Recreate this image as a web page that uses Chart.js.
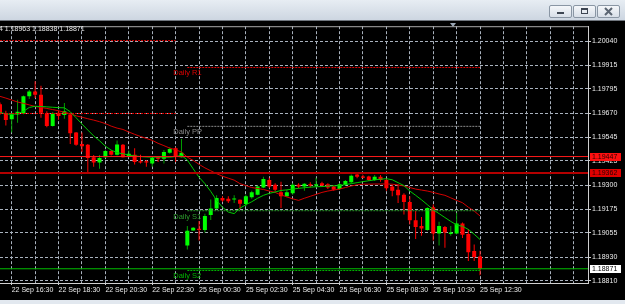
<!DOCTYPE html>
<html>
<head>
<meta charset="utf-8">
<script src="https://cdn.jsdelivr.net/npm/chart.js@4.4.1/dist/chart.umd.min.js"></script>
<style>
  html, body { margin: 0; padding: 0; }
  body { width: 625px; height: 304px; overflow: hidden; position: relative; background: #e2e8ef; font-family: 'Liberation Sans', Arial, sans-serif; }
  #titlebar { position: absolute; left: 0; top: 0; width: 625px; height: 20px; background: linear-gradient(#e7edf3, #cdd6e1); border-bottom: 1px solid #6f757d; }
  .btn { position: absolute; top: 5px; width: 21px; height: 11px; border: 1px solid #8a96a4; border-radius: 2px; background: linear-gradient(#f5f7fa, #d8dfe8); }
  .btn svg { position: absolute; left: 0; top: 0; }
  #frame { position: absolute; left: 0; top: 21px; width: 625px; height: 279px; background: #000; }
  #shift { position: absolute; left: 450px; top: 23px; width: 0; height: 0; border-left: 3px solid transparent; border-right: 3px solid transparent; border-top: 4px solid #9aa6b4; }
</style>
</head>
<body>
<div id="titlebar">
  <div class="btn" style="left:549px"><svg width="21" height="11"><rect x="7" y="6" width="7" height="2" fill="#3d4552"/></svg></div>
  <div class="btn" style="left:573px"><svg width="21" height="11"><rect x="7.5" y="2.5" width="6" height="5" fill="none" stroke="#3d4552"/><rect x="7" y="2" width="7" height="2" fill="#3d4552"/></svg></div>
  <div class="btn" style="left:597px"><svg width="21" height="11"><path d="M7 2 L14 9 M14 2 L7 9" stroke="#5b6572" stroke-width="2"/></svg></div>
</div>
<div id="frame"><canvas id="chart" width="625" height="279"></canvas></div>
<div id="shift"></div>
<script>
// EURUSD M15, bars from 22 Sep 16:00 to 25 Sep 12:30 (weekend skipped)
const opens = [1.19715, 1.19668, 1.19638, 1.19663, 1.19668, 1.19756, 1.19781, 1.19764, 1.19668, 1.19604,
  1.19672, 1.19660, 1.19663, 1.19571, 1.19512, 1.19507, 1.19444, 1.19416, 1.19444, 1.19475,
  1.19456, 1.19507, 1.19450, 1.19456, 1.19423, 1.19423, 1.19411, 1.19444, 1.19436, 1.19466,
  1.19490, 1.19444, 1.18990, 1.19068, 1.19076, 1.19070, 1.19147, 1.19180, 1.19234, 1.19231,
  1.19226, 1.19225, 1.19204, 1.19238, 1.19251, 1.19288, 1.19327, 1.19302, 1.19264, 1.19243,
  1.19259, 1.19302, 1.19293, 1.19305, 1.19298, 1.19310, 1.19305, 1.19293, 1.19281, 1.19302,
  1.19315, 1.19355, 1.19345, 1.19345, 1.19327, 1.19343, 1.19327, 1.19293, 1.19276, 1.19251,
  1.19214, 1.19120, 1.19091, 1.19070, 1.19187, 1.19052, 1.19086, 1.19049, 1.19052, 1.19103,
  1.19049, 1.18962, 1.18934];
const highs = [1.19725, 1.19682, 1.19672, 1.19739, 1.19760, 1.19789, 1.19833, 1.19811, 1.19680, 1.19675,
  1.19682, 1.19722, 1.19672, 1.19573, 1.19571, 1.19512, 1.19455, 1.19455, 1.19480, 1.19480,
  1.19529, 1.19512, 1.19478, 1.19490, 1.19456, 1.19429, 1.19444, 1.19450, 1.19480, 1.19495,
  1.19495, 1.19537, 1.19091, 1.19086, 1.19116, 1.19153, 1.19227, 1.19248, 1.19243, 1.19243,
  1.19248, 1.19227, 1.19251, 1.19271, 1.19298, 1.19343, 1.19338, 1.19310, 1.19318, 1.19276,
  1.19310, 1.19310, 1.19310, 1.19315, 1.19338, 1.19318, 1.19310, 1.19298, 1.19310, 1.19327,
  1.19355, 1.19360, 1.19352, 1.19349, 1.19352, 1.19352, 1.19332, 1.19302, 1.19305, 1.19259,
  1.19243, 1.19167, 1.19137, 1.19187, 1.19201, 1.19113, 1.19091, 1.19091, 1.19158, 1.19108,
  1.19075, 1.18995, 1.18963];
const lows = [1.19661, 1.19606, 1.19571, 1.19621, 1.19664, 1.19742, 1.19747, 1.19646, 1.19598, 1.19601,
  1.19636, 1.19641, 1.19512, 1.19503, 1.19470, 1.19360, 1.19394, 1.19385, 1.19439, 1.19452,
  1.19453, 1.19442, 1.19444, 1.19406, 1.19411, 1.19394, 1.19394, 1.19419, 1.19411, 1.19461,
  1.19419, 1.19442, 1.18970, 1.19066, 1.19016, 1.19057, 1.19121, 1.19177, 1.19215, 1.19209,
  1.19209, 1.19177, 1.19192, 1.19231, 1.19248, 1.19284, 1.19284, 1.19268, 1.19183, 1.19238,
  1.19251, 1.19284, 1.19271, 1.19288, 1.19288, 1.19293, 1.19281, 1.19271, 1.19276, 1.19298,
  1.19310, 1.19335, 1.19335, 1.19322, 1.19322, 1.19318, 1.19271, 1.19243, 1.19209, 1.19150,
  1.19100, 1.19024, 1.19041, 1.19066, 1.19016, 1.18990, 1.18979, 1.19041, 1.19049, 1.19029,
  1.18911, 1.18911, 1.18838];
const closes = [1.19669, 1.19635, 1.19663, 1.19677, 1.19756, 1.19781, 1.19764, 1.19672, 1.19604, 1.19668,
  1.19655, 1.19680, 1.19567, 1.19507, 1.19500, 1.19439, 1.19416, 1.19439, 1.19475, 1.19456,
  1.19509, 1.19444, 1.19461, 1.19419, 1.19416, 1.19416, 1.19439, 1.19436, 1.19470, 1.19486,
  1.19450, 1.19466, 1.19066, 1.19081, 1.19070, 1.19142, 1.19180, 1.19234, 1.19221, 1.19217,
  1.19231, 1.19205, 1.19243, 1.19264, 1.19293, 1.19332, 1.19293, 1.19276, 1.19243, 1.19264,
  1.19302, 1.19293, 1.19307, 1.19298, 1.19305, 1.19298, 1.19288, 1.19276, 1.19305, 1.19322,
  1.19349, 1.19343, 1.19338, 1.19327, 1.19343, 1.19327, 1.19284, 1.19271, 1.19248, 1.19214,
  1.19120, 1.19086, 1.19078, 1.19183, 1.19052, 1.19091, 1.19057, 1.19057, 1.19103, 1.19046,
  1.18956, 1.18931, 1.18871];

// moving averages (green = fast, red = slow)
const maFast = [1.19672, 1.19667, 1.19663, 1.19667, 1.19679, 1.19699, 1.19705, 1.19704, 1.19702, 1.19700,
  1.19698, 1.19697, 1.19677, 1.19646, 1.19614, 1.19583, 1.19553, 1.19528, 1.19500, 1.19480,
  1.19467, 1.19461, 1.19455, 1.19450, 1.19447, 1.19445, 1.19444, 1.19444, 1.19444, 1.19444,
  1.19447, 1.19453, 1.19429, 1.19384, 1.19341, 1.19308, 1.19268, 1.19222, 1.19187, 1.19162,
  1.19154, 1.19182, 1.19200, 1.19215, 1.19233, 1.19248, 1.19258, 1.19265, 1.19273, 1.19276,
  1.19280, 1.19284, 1.19287, 1.19290, 1.19292, 1.19293, 1.19295, 1.19297, 1.19298, 1.19303,
  1.19308, 1.19313, 1.19318, 1.19323, 1.19327, 1.19331, 1.19333, 1.19328, 1.19313, 1.19298,
  1.19270, 1.19248, 1.19225, 1.19200, 1.19174, 1.19154, 1.19134, 1.19114, 1.19096, 1.19089,
  1.19073, 1.19048, 1.19021];
const maSlow = [1.19756, 1.19747, 1.19737, 1.19727, 1.19720, 1.19712, 1.19704, 1.19699, 1.19694, 1.19688,
  1.19682, 1.19674, 1.19667, 1.19656, 1.19649, 1.19641, 1.19634, 1.19626, 1.19616, 1.19603,
  1.19593, 1.19586, 1.19573, 1.19561, 1.19550, 1.19540, 1.19530, 1.19515, 1.19503, 1.19490,
  1.19482, 1.19470, 1.19444, 1.19427, 1.19407, 1.19389, 1.19374, 1.19359, 1.19346, 1.19336,
  1.19326, 1.19308, 1.19298, 1.19288, 1.19283, 1.19278, 1.19270, 1.19263, 1.19250, 1.19240,
  1.19230, 1.19222, 1.19233, 1.19243, 1.19253, 1.19263, 1.19270, 1.19275, 1.19280, 1.19288,
  1.19296, 1.19302, 1.19305, 1.19305, 1.19306, 1.19306, 1.19306, 1.19305, 1.19301, 1.19296,
  1.19288, 1.19280, 1.19275, 1.19270, 1.19263, 1.19255, 1.19248, 1.19235, 1.19222, 1.19210,
  1.19187, 1.19167, 1.19142];

const priceLabels = ['1.20040', '1.19915', '1.19795', '1.19670', '1.19545', '1.19425',
  '1.19300', '1.19175', '1.19055', '1.18930', '1.18810'];
const timeLabels = ['22 Sep 16:30', '22 Sep 18:30', '22 Sep 20:30', '22 Sep 22:30', '25 Sep 00:30',
  '25 Sep 02:30', '25 Sep 04:30', '25 Sep 06:30', '25 Sep 08:30', '25 Sep 10:30', '25 Sep 12:30'];
const timeLabelBars = [2, 10, 18, 26, 34, 42, 50, 58, 66, 74, 82];
const gridBars = [2, 6, 10, 14, 18, 22, 26, 30, 34, 38, 42, 46, 50, 54, 58, 62, 66, 70, 74, 78, 82, 86, 90, 94, 98];

// pivot levels: previous day (to bar 30) and the current day (from bar 32)
const prevLevels = [1.20042, 1.19668];
const dayLevelNames = ['Daily R1', 'Daily PP', 'Daily S1', 'Daily S2'];
const dayLevels = [1.19904, 1.19602, 1.19169, 1.18862];
const dayLevelColors = ['#e00000', '#8a8a8a', '#2c9c2c', '#00b400'];
const alertLevels = [1.19447, 1.19362];
const bidPrice = 1.18871;
const ohlcText = '4 1.18963 1.18838 1.18871';

const X_MAX = 100.44;
const GRID = '#a9b2be';

const idx = opens.map((_, i) => i);
const isBull = i => closes[i] >= opens[i];
const seg = (x0, x1, v) => [{ x: x0, y: v }, { x: x1, y: v }];

const levelSets = [];
prevLevels.forEach(v => levelSets.push({ data: seg(0, 30, v), color: '#e00000', dash: [2, 1], width: 1 }));
dayLevels.forEach((v, k) => levelSets.push({ data: seg(32, 82, v), color: dayLevelColors[k], dash: [2, 1], width: 1 }));
levelSets.push({ data: seg(0, X_MAX, alertLevels[0]), color: '#ff1a1a', dash: [], width: 1 });
levelSets.push({ data: seg(0, X_MAX, alertLevels[1]), color: '#b40000', dash: [], width: 2 });
levelSets.push({ data: seg(0, X_MAX, bidPrice), color: '#00c000', dash: [], width: 1 });

const overlay = {
    id: 'overlay',
    afterDraw(chart) {
        const { ctx, scales: { x, y }, chartArea } = chart;
        ctx.save();
        // plot top border
        ctx.fillStyle = '#a9a9a9';
        ctx.fillRect(0, chartArea.top, chartArea.right, 1);

        // pivot names
        ctx.font = '7.5px "Liberation Sans", Arial, sans-serif';
        ctx.textBaseline = 'top';
        ctx.textAlign = 'left';
        dayLevels.forEach((v, k) => {
            ctx.fillStyle = dayLevelColors[k];
            ctx.fillText(dayLevelNames[k], x.getPixelForValue(29.6), y.getPixelForValue(v) + 2);
        });

        // price boxes on the axis
        const boxes = [
            { v: alertLevels[0], bg: '#ff1010', fg: '#2a0000' },
            { v: alertLevels[1], bg: '#e00000', fg: '#2a0000' },
            { v: bidPrice, bg: '#ffffff', fg: '#000000' }
        ];
        ctx.font = '7px "Liberation Sans", Arial, sans-serif';
        ctx.textBaseline = 'middle';
        boxes.forEach(b => {
            const py = Math.round(y.getPixelForValue(b.v));
            ctx.fillStyle = b.bg;
            ctx.fillRect(590, py - 4, 31, 8);
            ctx.fillStyle = b.fg;
            ctx.fillText(b.v.toFixed(5), 592, py);
        });

        // bar info at the top left
        ctx.fillStyle = '#e6e6e6';
        ctx.textBaseline = 'top';
        ctx.fillText(ohlcText, -1, 5);
        ctx.restore();
    }
};

new Chart(document.getElementById('chart'), {
    type: 'bar',
    data: {
        datasets: [
            {
                label: 'wicks',
                data: idx.map(i => ({ x: i, y: [lows[i], highs[i]] })),
                backgroundColor: c => isBull(c.dataIndex) ? '#00a000' : '#ff0000',
                barThickness: 1, grouped: false, borderWidth: 0, inflateAmount: 0, order: 10
            },
            {
                label: 'bodies',
                data: idx.map(i => ({ x: i, y: [opens[i], closes[i]] })),
                backgroundColor: c => isBull(c.dataIndex) ? '#00ff00' : '#ff0000',
                barThickness: 4, grouped: false, borderWidth: 0, inflateAmount: 0, minBarLength: 1, order: 9
            },
            {
                type: 'line', label: 'MA slow',
                data: idx.map(i => ({ x: i, y: maSlow[i] })),
                borderColor: '#d40000', borderWidth: 1, pointRadius: 0, tension: 0, order: 5
            },
            {
                type: 'line', label: 'MA fast',
                data: idx.map(i => ({ x: i, y: maFast[i] })),
                borderColor: '#00c800', borderWidth: 1, pointRadius: 0, tension: 0, order: 4
            },
            ...levelSets.map(l => ({
                type: 'line', data: l.data, borderColor: l.color, borderWidth: l.width,
                borderDash: l.dash, pointRadius: 0, order: 1
            }))
        ]
    },
    options: {
        responsive: false,
        animation: false,
        layout: { padding: { top: 1, left: 0, right: 0, bottom: 0 } },
        plugins: { legend: { display: false }, tooltip: { enabled: false } },
        scales: {
            x: {
                type: 'linear', min: 0, max: X_MAX, bounds: 'data', offset: false,
                afterBuildTicks: s => { s.ticks = gridBars.map(v => ({ value: v })); },
                afterFit: s => { s.height = 17; },
                grid: {
                    color: GRID, offset: false, tickLength: 2, tickBorderDash: [],
                    tickColor: c => (c.tick && timeLabelBars.includes(c.tick.value)) ? '#d0d0d0' : 'rgba(0,0,0,0)'
                },
                border: { display: true, color: '#d0d0d0', dash: [3, 2] },
                ticks: {
                    autoSkip: false, maxRotation: 0, minRotation: 0, align: 'start', padding: 1,
                    color: '#ececec', font: { size: 7, family: '"Liberation Sans", Arial, sans-serif' },
                    callback: v => { const k = timeLabelBars.indexOf(v); return k >= 0 ? timeLabels[k] : ''; }
                }
            },
            y: {
                type: 'linear', position: 'right', min: 1.18798, max: 1.20116, bounds: 'data',
                afterBuildTicks: s => { s.ticks = priceLabels.map(t => ({ value: parseFloat(t) })); },
                afterFit: s => { s.width = 37; },
                grid: { color: GRID, tickLength: 3, tickColor: '#d0d0d0', tickBorderDash: [] },
                border: { display: true, color: '#d0d0d0', dash: [3, 2] },
                ticks: {
                    padding: 1, color: '#ececec', font: { size: 7, family: '"Liberation Sans", Arial, sans-serif' },
                    callback: (v, i) => priceLabels[i]
                }
            }
        }
    },
    plugins: [overlay]
});
</script>
</body>
</html>
